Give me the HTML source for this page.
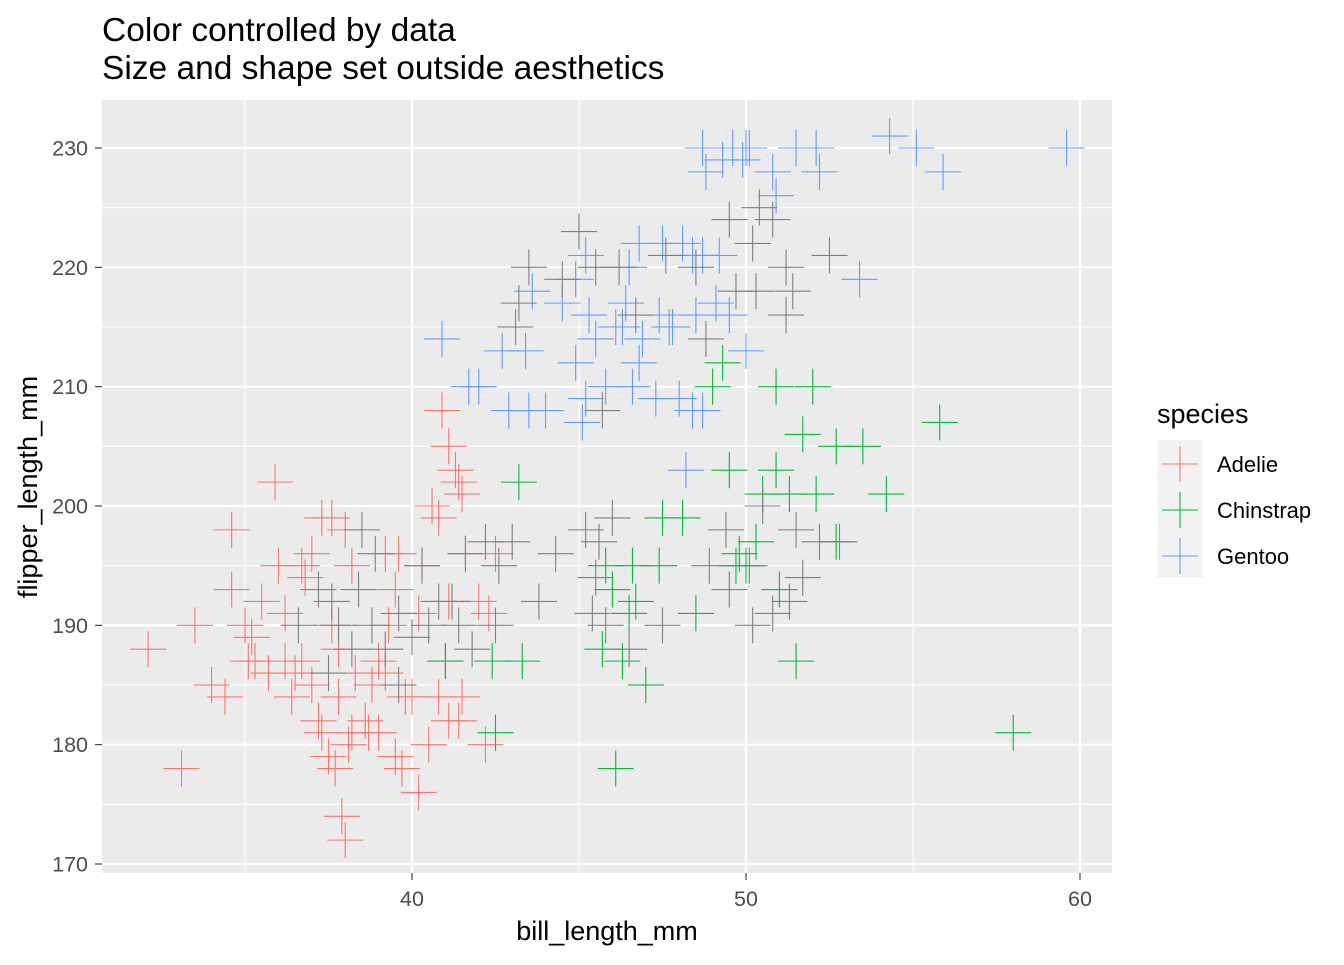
<!DOCTYPE html>
<html><head><meta charset="utf-8"><style>
html,body{margin:0;padding:0;background:#fff;}
svg text{font-family:"Liberation Sans",Arial,sans-serif;}
</style></head><body>
<svg id="chart" width="1344" height="960" xmlns="http://www.w3.org/2000/svg">
<rect x="0" y="0" width="1344" height="960" fill="#fff"/>
<text x="102" y="41" font-size="33.5" fill="#000">Color controlled by data</text>
<text x="102" y="79" font-size="33.5" fill="#000">Size and shape set outside aesthetics</text>
<rect x="102" y="100" width="1010" height="773" fill="#ebebeb"/>
<g id="grid"></g>
<g id="points"></g>
<g id="axes"></g>
<text x="607" y="940" font-size="27" text-anchor="middle" fill="#000">bill_length_mm</text>
<text transform="translate(37,487) rotate(-90)" font-size="27" text-anchor="middle" fill="#000">flipper_length_mm</text>
<g>
<text x="1157" y="423" font-size="27" fill="#000">species</text>
<rect x="1157" y="440" width="46" height="138" fill="#f2f2f2"/>
<g id="legend-keys"></g>
</g>
</svg>
<script>
const xTicks=[40,50,60];
const yTicks=[170,180,190,200,210,220,230];
const seriesNames=["Adelie","Chinstrap","Gentoo"];
const seriesColors=["#F8766D","#00BA38","#619CFF"];
const adelie=[[32.1,188],[33.1,178],[33.5,190],[34,185],[34.4,184],[34.6,193],[34.6,198],[35,190],[35.1,187],[35.3,187],[35.5,192],[35.7,186],[35.9,202],[36,195],[36.2,187],[36.5,186],[36.7,187],[36.8,194],[37,185],[37.2,182],[37.3,181],[37.5,179],[37.7,178],[37.8,184],[37.9,174],[38,172],[38.1,180],[38.2,181],[38.6,182],[38.7,181],[39,181],[39.2,186],[39.5,179],[39.7,178],[39.8,184],[40.2,176],[40.5,180],[40.8,184],[41.1,182],[41.5,184],[41.4,182],[42.2,180],[40.9,208],[41.1,205],[41.3,203],[41.4,202],[41.5,201],[40.6,200],[40.8,199],[37.6,199],[37.3,199],[38,198],[36.7,195],[37,196],[39.2,196],[39.6,196],[40.3,195],[41.1,192],[42,192],[42.5,196],[36.2,191],[37.8,188],[38.8,185],[39,187],[35.2,189],[40,184],[41,187],[42.3,191],[39.5,193],[38.2,195],[37.6,190],[36.4,184],[38.3,186],[41.6,196],[39.3,190],[40.2,191]];
const chinstrap=[[58,181],[55.8,207],[54.2,201],[53.5,205],[52.7,205],[52.7,197],[52,210],[51.7,206],[51.5,187],[50.9,210],[49.3,212],[49.5,203],[49,210],[48.5,191],[47.5,199],[48.1,199],[46.1,178],[47,185],[46.3,187],[45.7,188],[43.2,202],[42.4,187],[43.3,187],[42.5,181],[41,187],[50.5,201],[51.3,201],[52.1,201],[50,195],[49.8,196],[50.3,197],[46,193],[46.5,191],[46.7,192],[47.4,195],[51,193],[45.8,195],[46.6,195],[49.7,195],[50.9,203]];
const gentoo=[[59.6,230],[55.9,228],[55.1,230],[54.3,231],[53.4,219],[52.2,228],[52.1,230],[51.5,230],[50.8,228],[50,230],[49.9,229],[49.6,230],[49.3,229],[48.7,230],[48.8,228],[50.9,226],[48.1,222],[47.5,222],[46.8,222],[46.5,220],[48.4,221],[48.7,221],[50,213],[49.1,217],[48.5,216],[48,209],[48.4,208],[47.3,209],[46.8,212],[46.3,215],[45.5,214],[45.2,209],[45.1,207],[44.9,212],[44.5,217],[45.3,216],[46.1,215],[46.9,214],[47.4,216],[43.6,218],[43.4,213],[42.7,213],[42.9,208],[43.5,208],[44,208],[41.7,210],[42,210],[40.9,214],[48.2,203],[48.7,208],[46.4,217],[47.8,215],[50.1,230],[45.8,210],[45.2,221],[46.6,210],[47.7,215],[49.2,221],[49.5,216],[44.9,219]];
const overlap=[[45,223],[43.5,220],[44.5,219],[45.5,220],[46.2,220],[47.6,221],[48.5,220],[49.5,224],[50.4,225],[50.2,222],[50.8,224],[51.2,220],[51.2,216],[51.4,218],[52.5,221],[50.3,218],[49.7,218],[48.8,214],[46.7,216],[45.7,208],[43.1,215],[43.2,217],[45.2,198],[45.4,191],[45.6,197],[46,199],[45.5,194],[45.8,190],[47.5,190],[46.5,188],[48.9,195],[49.4,198],[50.5,200],[50.2,190],[50.8,191],[51.5,198],[51.7,194],[52.2,197],[52.8,197],[51.3,192],[49.5,193],[50.1,195],[44.3,196],[43.8,192],[43,197],[42.6,195],[42.5,190],[41.6,196],[41.4,190],[40.8,192],[40.3,195],[39.6,191],[38.8,190],[38.4,193],[37.8,190],[37.6,192],[37.2,193],[36.6,190],[38.9,196],[38.5,198],[38.2,188],[39.2,188],[40,189],[41.2,192],[42.2,197],[40.5,190],[41.8,188],[39.6,185],[37.5,186]];
const NS="http://www.w3.org/2000/svg";
const X=v=>412+(v-40)*33.4;
const Y=v=>148+(230-v)*(716/60);
function mk(tag,attrs,parent){const e=document.createElementNS(NS,tag);for(const k in attrs)e.setAttribute(k,attrs[k]);parent.appendChild(e);return e;}
const grid=document.getElementById('grid'),axes=document.getElementById('axes'),pts=document.getElementById('points');
for(let i=0;i<xTicks.length;i++){const v=xTicks[i]-5;const l=mk('line',{x1:X(v),x2:X(v),y1:100,y2:873,stroke:'#fff','stroke-width':1.1},grid);

}
for(let i=0;i<yTicks.length-1;i++){const v=yTicks[i]+5;const l=mk('line',{x1:102,x2:1112,y1:Y(v),y2:Y(v),stroke:'#fff','stroke-width':1.1},grid);

}
xTicks.forEach(v=>{const l=mk('line',{x1:X(v),x2:X(v),y1:100,y2:873,stroke:'#fff','stroke-width':2.2},grid);


const t=mk('line',{x1:X(v),x2:X(v),y1:873,y2:880,stroke:'#333','stroke-width':1.1},axes);


const tx=mk('text',{x:X(v),y:906,'font-size':21.5,'text-anchor':'middle',fill:'#4d4d4d'},axes);tx.textContent=v;

});
yTicks.forEach(v=>{const l=mk('line',{x1:102,x2:1112,y1:Y(v),y2:Y(v),stroke:'#fff','stroke-width':2.2},grid);


const t=mk('line',{x1:95,x2:102,y1:Y(v),y2:Y(v),stroke:'#333','stroke-width':1.1},axes);


const tx=mk('text',{x:88,y:Y(v)+7.5,'font-size':21.5,'text-anchor':'end',fill:'#4d4d4d'},axes);tx.textContent=v;

});
function cross(x,y,c,parent){const p=mk('path',{d:`M${x-18},${y}H${x+18}M${x},${y-18}V${y+18}`,stroke:c,'stroke-width':1.1,fill:'none'},parent);return p;}
[[adelie,seriesColors[0],'adelie-point'],[chinstrap,seriesColors[1],'chinstrap-point'],[gentoo,seriesColors[2],'gentoo-point'],[overlap,'#7f7f7f','overlap-point']].forEach(([arr,c,n])=>{
arr.forEach(d=>{const p=cross(X(d[0]),Y(d[1]),c,pts);

});});
const lk=document.getElementById('legend-keys');
seriesNames.forEach((n,i)=>{const cy=464+i*46;const p=cross(1180,cy,seriesColors[i],lk);


const t=mk('text',{x:1217,y:cy+8,'font-size':22,fill:'#000'},lk);t.textContent=n;

});
</script>
</body></html>
